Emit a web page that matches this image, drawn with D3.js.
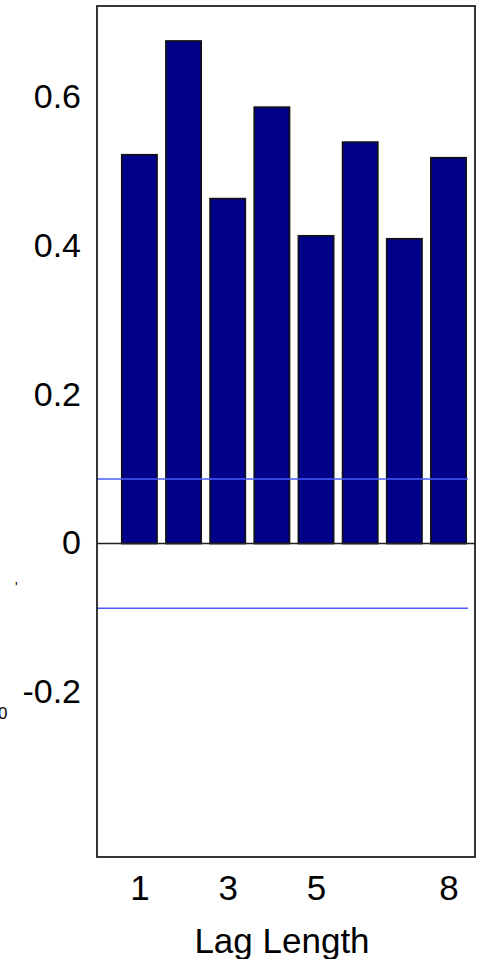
<!DOCTYPE html>
<html>
<head>
<meta charset="utf-8">
<script src="https://cdn.jsdelivr.net/npm/d3@7"></script>
<style>
  body { margin: 0; background: #fff; }
  svg { display: block; font-family: "Liberation Sans", Arial, Helvetica, sans-serif; }
  .tick text { fill: #000; }
</style>
</head>
<body>
<div id="chart"></div>
<script>
// lag lengths and autocorrelation values
const lags = [1, 2, 3, 4, 5, 6, 7, 8];
const acf = [0.523, 0.676, 0.464, 0.587, 0.414, 0.540, 0.410, 0.519];
const xTicks = [1, 3, 5, 8];
const yTicks = [-0.2, 0, 0.2, 0.4, 0.6];
const bound = 0.087; // confidence band

const width = 477, height = 959;
const plot = {left: 97, right: 475, top: 6, bottom: 857};

const svg = d3.select("#chart").append("svg")
    .attr("width", width)
    .attr("height", height);

const x = d3.scaleLinear().domain([0.04, 8.6]).range([plot.left, plot.right]);
const y = d3.scaleLinear().domain([-0.4215, 0.723]).range([plot.bottom, plot.top]);
const barW = x(1.8) - x(1);

// bars
svg.append("g")
    .selectAll("rect")
    .data(lags)
    .join("rect")
    .attr("x", (d) => x(d) - barW / 2)
    .attr("y", (d, i) => y(acf[i]))
    .attr("width", barW)
    .attr("height", (d, i) => y(0) - y(acf[i]))
    .attr("fill", "#000088")
    .attr("stroke", "#111")
    .attr("stroke-width", 1.6);

// zero baseline
svg.append("line")
    .attr("x1", plot.left).attr("x2", plot.right)
    .attr("y1", y(0)).attr("y2", y(0))
    .attr("stroke", "#222")
    .attr("stroke-width", 1.5);

// confidence bounds
svg.append("g")
    .selectAll("line")
    .data([bound, -bound])
    .join("line")
    .attr("x1", plot.left).attr("x2", x(8.44))
    .attr("y1", (d) => y(d)).attr("y2", (d) => y(d))
    .attr("stroke", "#4a5cff")
    .attr("stroke-width", 1.5);

// frame
svg.append("rect")
    .attr("x", plot.left).attr("y", plot.top)
    .attr("width", plot.right - plot.left).attr("height", plot.bottom - plot.top)
    .attr("fill", "none")
    .attr("stroke", "#222")
    .attr("stroke-width", 1.8);

// y axis
const yAxis = svg.append("g")
    .attr("transform", "translate(" + (plot.left - 16) + ",0)")
    .call(d3.axisLeft(y).tickValues(yTicks).tickSize(0)
        .tickFormat((d) => d === 0 ? "0" : (d < 0 ? "-" : "") + Math.abs(d).toFixed(1)));
yAxis.select(".domain").remove();
yAxis.selectAll("text")
    .attr("x", 0)
    .attr("dy", "0.3em")
    .attr("font-size", 34);

// x axis labels, baseline near 900
const xAxis = svg.append("g")
    .attr("transform", "translate(0," + plot.bottom + ")")
    .call(d3.axisBottom(x).tickValues(xTicks).tickSize(0).tickFormat(d3.format("d")));
xAxis.select(".domain").remove();
xAxis.selectAll("text")
    .attr("y", 900 - plot.bottom)
    .attr("dy", "0")
    .attr("font-size", 35);

svg.append("text")
    .attr("x", 282)
    .attr("y", 953)
    .attr("text-anchor", "middle")
    .attr("font-size", 35)
    .text("Lag Length");

// stray fragments from a neighbouring panel
svg.append("text")
    .attr("x", -2).attr("y", 719)
    .attr("font-size", 17)
    .text("0");
svg.append("text")
    .attr("x", 15).attr("y", 592)
    .attr("font-size", 14)
    .text("'");
</script>
</body>
</html>
